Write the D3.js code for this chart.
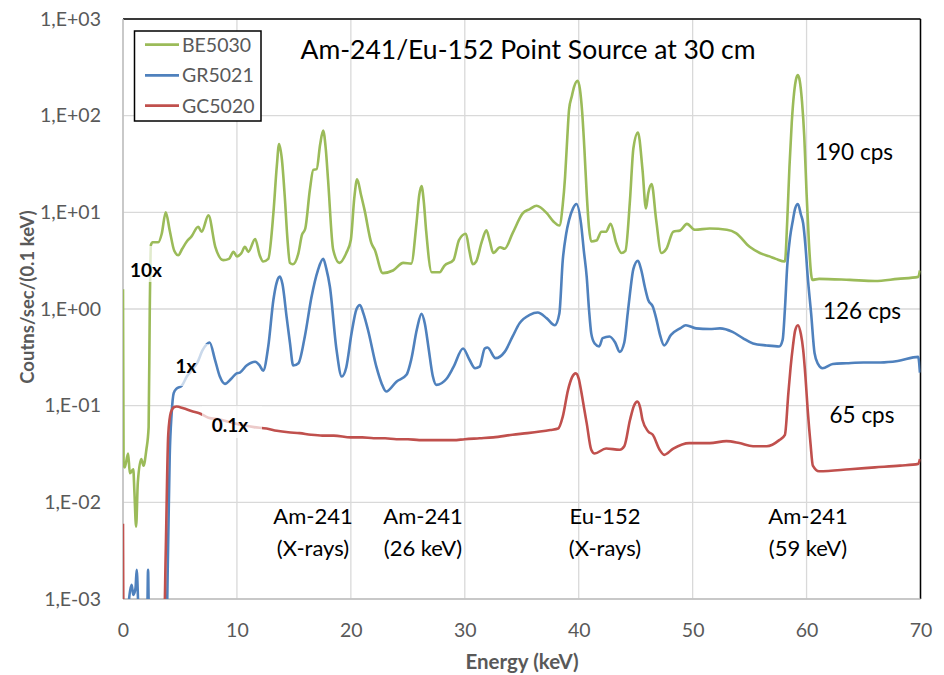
<!DOCTYPE html>
<html>
<head>
<meta charset="utf-8">
<script src="https://cdn.jsdelivr.net/npm/d3@7"></script>
<style>
  body { margin: 0; background: #fff; }
  text { font-family: Lato, "Open Sans", sans-serif; }
</style>
</head>
<body>
<script>
// Spectra: [energy keV, counts/sec/(0.1 keV)]
const be5030 = [
  [0, 1.6], [0.05, 0.025], [0.15, 0.023], [0.45, 0.032], [0.6, 0.02], [0.9, 0.022], [1.0, 0.013],
  [1.15, 0.0056], [1.3, 0.016], [1.6, 0.028], [1.8, 0.024], [2.05, 0.035], [2.25, 0.06], [2.35, 1.0],
  [2.45, 4.6], [2.6, 4.9], [3.1, 4.9], [3.4, 6.0], [3.75, 10], [4.1, 6.5], [4.5, 4.0], [4.85, 3.6],
  [5.2, 4.2], [5.6, 5.0], [6.0, 5.6], [6.6, 7.1], [6.9, 6.3], [7.5, 9.3], [8.1, 4.4], [8.8, 3.2],
  [9.3, 3.3], [9.7, 3.9], [10.0, 3.5], [10.4, 3.8], [10.7, 4.4], [11.0, 3.9], [11.6, 5.3], [12.0, 3.6],
  [12.3, 3.1], [12.75, 3.3], [13.2, 9.8], [13.5, 30], [13.7, 51], [13.95, 35], [14.2, 14.5], [14.45, 5],
  [14.65, 3.0], [14.9, 2.9], [15.4, 3.8], [15.7, 5.8], [16.0, 6.8], [16.4, 17], [16.7, 27.5], [17.0, 28],
  [17.3, 50], [17.57, 70], [17.8, 45], [18.0, 21.6], [18.45, 4.1], [19.0, 3.0], [19.6, 3.8], [20.0, 5.2],
  [20.3, 14], [20.55, 22], [20.9, 15], [21.2, 10.6], [21.8, 4.8], [22.1, 4.1], [22.8, 2.35], [23.7, 2.5],
  [24.6, 3.0], [25.3, 2.95], [25.76, 7.7], [26.0, 15], [26.2, 18.7], [26.4, 13], [26.6, 6.6], [27.1, 2.4],
  [27.8, 2.4], [28.2, 2.8], [29.0, 3.2], [29.5, 5.2], [30.1, 6.0], [30.4, 4.0], [30.7, 2.9], [31.0, 3.1],
  [31.5, 5.0], [31.9, 6.5], [32.2, 5.0], [32.5, 3.8], [33.1, 4.35], [33.5, 4.2], [34.2, 6.1], [35.1, 9.8],
  [35.7, 10.8], [36.3, 11.7], [37.2, 9.8], [37.8, 8.0], [38.3, 7.3], [38.6, 12], [38.8, 23], [39.0, 60],
  [39.15, 115], [39.4, 160], [39.6, 200], [39.9, 230], [40.1, 190], [40.3, 110], [40.5, 45], [40.7, 15.7],
  [40.9, 7], [41.1, 5.0], [41.55, 5.1], [42.0, 6.3], [42.4, 6.3], [42.8, 7.6], [43.3, 4.8], [43.75, 3.8],
  [44.1, 4.0], [44.5, 13.4], [44.8, 46], [45.2, 67], [45.6, 27.5], [45.9, 11], [46.1, 15.7], [46.4, 19.6],
  [46.8, 8.3], [47.25, 3.8], [47.7, 4.2], [48.3, 6.3], [48.9, 6.5], [49.5, 7.6], [50.2, 6.6], [51.5, 6.8],
  [53.0, 6.6], [53.8, 6.1], [55.0, 4.4], [55.9, 3.8], [56.75, 3.5], [57.3, 3.3], [58.1, 3.1], [58.3, 8],
  [58.5, 30], [58.7, 85], [58.9, 170], [59.1, 245], [59.24, 263], [59.4, 230], [59.6, 140], [59.8, 60],
  [60.0, 15.7], [60.2, 5], [60.4, 2.3], [60.5, 2.0], [61.1, 2.05], [63.8, 2.0], [66, 1.95], [68, 2.05],
  [69.8, 2.15], [69.95, 2.5]
];

const gr5021 = [
  [0, 0.0005], [0.4, 0.0005], [0.5, 0.0009], [0.76, 0.0014], [0.9, 0.0011], [1.1, 0.0013], [1.2, 0.002],
  [1.35, 0.0008], [1.5, 0.0004], [2.1, 0.0004], [2.2, 0.002], [2.3, 0.0004], [3.8, 0.0004], [3.95, 0.003],
  [4.1, 0.03], [4.27, 0.083], [4.45, 0.135], [4.7, 0.15], [5.15, 0.16], [5.6, 0.2], [6.0, 0.23], [6.5, 0.275],
  [7.0, 0.377], [7.6, 0.45], [8.07, 0.3], [8.5, 0.2], [8.95, 0.168], [9.5, 0.19], [9.97, 0.216], [10.26, 0.22],
  [10.85, 0.26], [11.6, 0.285], [12.0, 0.26], [12.3, 0.23], [12.75, 0.41], [13.2, 1.24], [13.5, 1.9],
  [13.77, 2.16], [14.0, 1.8], [14.36, 0.83], [14.65, 0.45], [14.94, 0.26], [15.4, 0.275], [15.96, 0.52],
  [16.55, 1.34], [17.1, 2.5], [17.57, 3.3], [17.85, 2.6], [18.16, 1.7], [18.74, 0.38], [19.2, 0.2],
  [19.6, 0.25], [20.06, 0.56], [20.5, 1.0], [20.8, 1.1], [21.1, 0.9], [21.5, 0.61], [22.25, 0.25],
  [22.7, 0.17], [23.1, 0.14], [24.0, 0.177], [24.9, 0.21], [25.3, 0.3], [25.8, 0.62], [26.2, 0.89],
  [26.5, 0.7], [26.8, 0.41], [27.2, 0.2], [27.5, 0.164], [28.4, 0.19], [29.0, 0.25], [29.85, 0.39],
  [30.4, 0.3], [30.9, 0.244], [31.3, 0.253], [31.75, 0.39], [32.0, 0.4], [32.7, 0.31], [33.5, 0.36],
  [34.2, 0.52], [34.8, 0.71], [35.7, 0.87], [36.4, 0.92], [37.2, 0.8], [37.9, 0.68], [38.3, 0.9],
  [38.6, 3.2], [38.9, 6.0], [39.15, 8.3], [39.5, 11], [39.8, 12.2], [40.2, 7.7], [40.45, 4.0], [40.7, 2.16],
  [40.9, 1.0], [41.1, 0.56], [41.4, 0.44], [41.8, 0.41], [42.1, 0.5], [42.7, 0.52], [43.2, 0.45],
  [43.6, 0.36], [44.0, 0.45], [44.3, 0.9], [44.5, 1.45], [44.8, 2.6], [45.2, 3.16], [45.5, 2.5], [45.8, 1.7],
  [46.1, 1.24], [46.5, 1.06], [46.8, 0.8], [47.1, 0.56], [47.5, 0.42], [48.1, 0.54], [48.9, 0.63],
  [49.4, 0.68], [50.3, 0.63], [51.5, 0.62], [52.4, 0.63], [53.5, 0.58], [54.4, 0.5], [55.3, 0.44],
  [56.5, 0.42], [57.6, 0.41], [57.9, 0.48], [58.1, 1.0], [58.3, 2.75], [58.55, 5.5], [58.8, 8.3], [59.0, 11],
  [59.24, 12.2], [59.5, 9.5], [59.7, 7.7], [59.9, 4.5], [60.1, 2.16], [60.4, 0.9], [60.7, 0.35], [61.0, 0.27],
  [61.4, 0.244], [62.3, 0.27], [63.5, 0.275], [65, 0.28], [66.5, 0.28], [68, 0.29], [69.8, 0.32], [69.95, 0.22]
];

const gc5020 = [
  [0, 0.006], [0.05, 0.0005], [3.6, 0.0005], [3.75, 0.003], [3.97, 0.05], [4.2, 0.085], [4.5, 0.097],
  [4.7, 0.098], [5.3, 0.094], [6.0, 0.088], [6.75, 0.083], [7.5, 0.075], [8.5, 0.072], [9.7, 0.066],
  [10.5, 0.063], [11.5, 0.06], [12.6, 0.058], [13.5, 0.055], [14.5, 0.053], [15.5, 0.052], [16.5, 0.05],
  [17.5, 0.049], [18.5, 0.049], [20, 0.047], [21, 0.047], [22, 0.046], [23, 0.046], [24, 0.045], [25, 0.045],
  [26, 0.044], [27, 0.044], [28, 0.044], [29, 0.044], [30, 0.045], [31.3, 0.046], [32.5, 0.047],
  [34.2, 0.05], [35.5, 0.052], [36.6, 0.054], [37.5, 0.056], [38.2, 0.058], [38.6, 0.077], [39.06, 0.145],
  [39.4, 0.195], [39.74, 0.216], [40.0, 0.19], [40.2, 0.145], [40.5, 0.09], [40.7, 0.066], [41.1, 0.035],
  [41.4, 0.032], [42.4, 0.036], [43.6, 0.035], [44.0, 0.038], [44.5, 0.071], [44.85, 0.1], [45.15, 0.11],
  [45.4, 0.095], [45.6, 0.071], [46.1, 0.054], [46.5, 0.05], [47.1, 0.035], [47.5, 0.031], [48.3, 0.036],
  [49.7, 0.041], [50.6, 0.041], [51.5, 0.041], [52.96, 0.043], [54.1, 0.041], [55.3, 0.038], [56.5, 0.038],
  [57.6, 0.044], [58.1, 0.05], [58.4, 0.134], [58.6, 0.25], [58.8, 0.41], [59.0, 0.6], [59.24, 0.68],
  [59.5, 0.55], [59.7, 0.38], [59.9, 0.2], [60.1, 0.09], [60.35, 0.04], [60.55, 0.024], [61.1, 0.021],
  [63.8, 0.022], [66, 0.023], [68.2, 0.024], [69.8, 0.025], [69.95, 0.028]
];

const seriesNames = ["BE5030", "GR5021", "GC5020"];
const seriesColors = ["#9BBB59", "#4F81BD", "#C0504D"];
const xTicks = [0, 10, 20, 30, 40, 50, 60, 70];
const yTicks = [1e-3, 1e-2, 1e-1, 1, 10, 100, 1000];
const yTickLabels = ["1,E-03", "1,E-02", "1,E-01", "1,E+00", "1,E+01", "1,E+02", "1,E+03"];
const scaleLabels = ["10x", "1x", "0.1x"];
const rateLabels = ["190 cps", "126 cps", "65 cps"];
const peakLabels = [
  ["Am-241", "(X-rays)"],
  ["Am-241", "(26 keV)"],
  ["Eu-152", "(X-rays)"],
  ["Am-241", "(59 keV)"]
];

const width = 944;
const height = 675;
const plot = { left: 123, right: 920.5, top: 19, bottom: 599 };

const svg = d3.select("body").append("svg")
  .attr("width", width)
  .attr("height", height);

const x = d3.scaleLinear().domain([0, 70]).range([plot.left, plot.right]);
const y = d3.scaleLog().domain([1e-3, 1e3]).range([plot.bottom, plot.top]);

// gridlines
svg.append("g")
  .selectAll("line.h")
  .data(yTicks)
  .enter().append("line")
  .attr("x1", plot.left).attr("x2", plot.right)
  .attr("y1", d => y(d)).attr("y2", d => y(d))
  .attr("stroke", "#d9d9d9").attr("stroke-width", 1.3);

svg.append("g")
  .selectAll("line.v")
  .data(xTicks)
  .enter().append("line")
  .attr("x1", d => x(d)).attr("x2", d => x(d))
  .attr("y1", plot.top).attr("y2", plot.bottom)
  .attr("stroke", "#d9d9d9").attr("stroke-width", 1.3);

// plot border: black on top/right, grey axis lines left/bottom
svg.append("line")
  .attr("x1", plot.left).attr("x2", plot.right).attr("y1", plot.top).attr("y2", plot.top)
  .attr("stroke", "#000").attr("stroke-width", 1.3);
svg.append("line")
  .attr("x1", plot.right).attr("x2", plot.right).attr("y1", plot.top).attr("y2", plot.bottom)
  .attr("stroke", "#000").attr("stroke-width", 1.5);
svg.append("line")
  .attr("x1", plot.left).attr("x2", plot.left).attr("y1", plot.top).attr("y2", plot.bottom)
  .attr("stroke", "#bfbfbf").attr("stroke-width", 1.5);
svg.append("line")
  .attr("x1", plot.left).attr("x2", plot.right).attr("y1", plot.bottom).attr("y2", plot.bottom)
  .attr("stroke", "#bfbfbf").attr("stroke-width", 1.5);

// axes labels (Excel style)
const yAxis = d3.axisLeft(y).tickValues(yTicks).tickSize(0).tickPadding(22)
  .tickFormat((d, i) => yTickLabels[i]);
svg.append("g")
  .attr("transform", `translate(${plot.left},0)`)
  .call(yAxis)
  .call(g => g.select(".domain").remove())
  .selectAll("text")
  .attr("fill", "#595959")
  .style("font-family", "Lato, sans-serif")
  .style("font-size", "19.5px");

const xAxis = d3.axisBottom(x).tickValues(xTicks).tickSize(0).tickPadding(24);
svg.append("g")
  .attr("transform", `translate(0,${plot.bottom})`)
  .call(xAxis)
  .call(g => g.select(".domain").remove())
  .selectAll("text")
  .attr("fill", "#595959")
  .style("font-family", "Lato, sans-serif")
  .style("font-size", "19.5px");

svg.append("text")
  .attr("x", 522).attr("y", 669)
  .attr("text-anchor", "middle")
  .attr("fill", "#595959")
  .style("font-size", "20.5px").style("font-weight", "bold")
  .text("Energy (keV)");

svg.append("text")
  .attr("transform", "translate(34,297) rotate(-90)")
  .attr("text-anchor", "middle")
  .attr("fill", "#595959")
  .style("font-size", "18.5px").style("font-weight", "bold")
  .text("Coutns/sec/(0.1 keV)");

// spectra
svg.append("clipPath").attr("id", "clip")
  .append("rect")
  .attr("x", plot.left).attr("y", plot.top)
  .attr("width", plot.right - plot.left).attr("height", plot.bottom - plot.top);

const line = d3.line()
  .x(d => x(d[0]))
  .y(d => y(d[1]))
  .curve(d3.curveMonotoneX);

const allSeries = [be5030, gr5021, gc5020];
svg.append("g")
  .attr("clip-path", "url(#clip)")
  .selectAll("path")
  .data(allSeries)
  .enter().append("path")
  .attr("d", line)
  .attr("fill", "none")
  .attr("stroke", (d, i) => seriesColors[i])
  .attr("stroke-width", 2.6)
  .attr("stroke-linejoin", "round");

// title
svg.append("text")
  .attr("x", 528).attr("y", 59)
  .attr("text-anchor", "middle")
  .attr("fill", "#000")
  .style("font-size", "26.5px")
  .text("Am-241/Eu-152 Point Source at 30 cm");

// legend
const legend = svg.append("g");
legend.append("rect")
  .attr("x", 134.5).attr("y", 31)
  .attr("width", 126.5).attr("height", 90)
  .attr("fill", "#fff").attr("stroke", "#000").attr("stroke-width", 1.5);

const legendRows = [44.7, 75.3, 105.7];
seriesNames.forEach((name, i) => {
  legend.append("line")
    .attr("x1", 145).attr("x2", 179)
    .attr("y1", legendRows[i]).attr("y2", legendRows[i])
    .attr("stroke", seriesColors[i]).attr("stroke-width", 2.8);
  legend.append("text")
    .attr("x", 182).attr("y", legendRows[i])
    .attr("dy", "0.35em")
    .attr("fill", "#595959")
    .style("font-size", "19.5px")
    .text(name);
});

// multiplier labels with their semi-transparent boxes
const scaleBoxes = [
  { x: 126, y: 246, w: 40, h: 36, tx: 146, ty: 277 },
  { x: 174, y: 344, w: 34, h: 42, tx: 186, ty: 373 },
  { x: 202, y: 406, w: 60, h: 32, tx: 230, ty: 432 }
];
scaleLabels.forEach((t, i) => {
  const b = scaleBoxes[i];
  svg.append("rect")
    .attr("x", b.x).attr("y", b.y).attr("width", b.w).attr("height", b.h)
    .attr("fill", "#fff").attr("opacity", 0.7);
  svg.append("text")
    .attr("x", b.tx).attr("y", b.ty)
    .attr("text-anchor", "middle")
    .attr("fill", "#000")
    .style("font-size", "19px").style("font-weight", "bold")
    .text(t);
});

// count rate labels
const ratePos = [[854, 160], [862, 319], [862, 423]];
rateLabels.forEach((t, i) => {
  svg.append("text")
    .attr("x", ratePos[i][0]).attr("y", ratePos[i][1])
    .attr("text-anchor", "middle")
    .attr("fill", "#000")
    .style("font-size", "22.5px")
    .text(t);
});

// peak annotations
const peakX = [313, 423, 605, 808];
peakLabels.forEach((lines, i) => {
  const t = svg.append("text")
    .attr("text-anchor", "middle")
    .attr("fill", "#000")
    .style("font-size", "22px");
  lines.forEach((s, j) => {
    t.append("tspan")
      .attr("x", peakX[i])
      .attr("y", 524 + j * 32)
      .text(s);
  });
});
</script>
</body>
</html>
